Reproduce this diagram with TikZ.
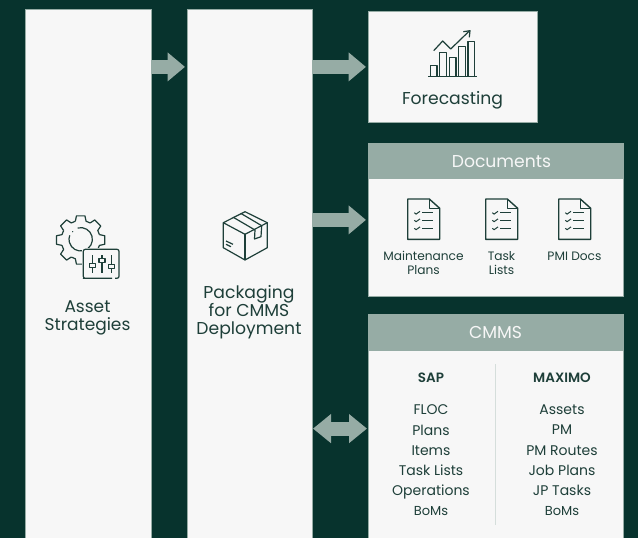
\documentclass[tikz,border=0pt]{standalone}
\usepackage{fontspec}
\setmainfont{Poppins}
\newfontface\semibold{Poppins SemiBold}
\usetikzlibrary{arrows.meta}
\definecolor{bgdark}{HTML}{07332D}
\definecolor{sage}{HTML}{96ACA5}
\definecolor{paper}{HTML}{F7F7F7}
\definecolor{ink}{HTML}{1E3F39}
\tikzset{
  panel/.style={rectangle,draw=sage,line width=1pt,fill=paper,inner sep=0pt,outer sep=0pt},
  header/.style={rectangle,fill=sage,text=paper,inner sep=0pt,outer sep=0pt,minimum width=255.5pt,font=\fontsize{17.2}{20}\selectfont},
  icon/.style={draw=ink,line width=1.2pt,line join=round},
  pics/checkdoc/.style={code={
    \draw[icon,line width=1.4pt] (0,0) -- (21.6,0) -- (32,9.3) -- (32,40.3) -- (0,40.3) -- cycle;
    \draw[icon] (21.6,0) -- (21.6,9.3) -- (32,9.3);
    \foreach \r in {13.7,21.3,29.3} {
      \draw[icon,line width=1pt] (6.6,\r) -- (8.4,\r+1.4) -- (12.3,\r-1.4);
      \draw[icon,line width=1pt] (14.3,\r) -- (25.3,\r);
    }
  }}
}
\begin{document}
\begin{tikzpicture}[x=1pt,y=-1pt]

        \clip (0,0) rectangle (638,538);
        \fill[bgdark] (0,0) rectangle (638,538);

        \begin{scope}[every node/.style={panel}]
          \node[minimum width=126pt,minimum height=550pt] (asset) at (88,284.5) {};
          \node[minimum width=125pt,minimum height=550pt] (pack) at (249.5,284.5) {};
          \node[minimum width=169pt,minimum height=110.5pt] (forecast) at (452.5,66.9) {};
          \node[minimum width=255pt,minimum height=152.5pt] (docs) at (495.5,219.9) {};
          \node[minimum width=255pt,minimum height=229pt] (cmms) at (495.5,428.6) {};
        \end{scope}

        \node[header,minimum height=35pt,anchor=north] (docshead) at (docs.north) {\hspace*{12pt}\raisebox{-1pt}{Documents}};
        \node[header,minimum height=37pt,anchor=north] (cmmshead) at (cmms.north) {\raisebox{-1pt}{CMMS}};

        \begin{scope}[every edge/.style={draw=sage,line width=14pt,shorten >=2pt,-{Triangle[length=17.5pt,width=28pt]}}]
          \path (asset.east |- forecast.west) edge (pack.west |- forecast.west);
          \path (pack.east |- forecast.west) edge (forecast.west);
          \path (pack.east |- docs.west) edge (docs.west);
        \end{scope}
        \path[draw=sage,line width=14pt,shorten >=1pt,shorten <=1pt,{Triangle[length=18pt,width=28pt]}-{Triangle[length=18pt,width=28pt]}] (pack.east |- cmms.west) -- (cmms.west);

        \begin{scope}[every node/.style={text=ink,align=center,inner sep=0pt}]
          \node[font=\fontsize{17}{18.5}\selectfont] (assetlabel) at (87.5,318) {Asset\\Strategies};
          \node[font=\fontsize{17.2}{18}\selectfont] (packlabel) at (249,312) {Packaging\\for CMMS\\Deployment};
          \node[font=\fontsize{17.2}{20}\selectfont] (forecastlabel) at (452.5,100) {Forecasting};
          \node[font=\fontsize{12.2}{14}\selectfont] (planslabel) at (423.5,263) {Maintenance\\Plans};
          \node[font=\fontsize{12.2}{14}\selectfont] (taskslabel) at (501.5,263) {Task\\Lists};
          \node[font=\fontsize{12.2}{14}\selectfont] (pmilabel) at (574.5,256) {PMI Docs};
          \node[font=\fontsize{13.5}{16}\semibold] (saplabel) at (431,378) {SAP};
          \node[font=\fontsize{13.5}{16}\semibold] (maximolabel) at (562,378) {MAXIMO};
          \node[font=\fontsize{14}{20.2}\selectfont] (saplist) at (431,460.5) {FLOC\\Plans\\Items\\Task Lists\\Operations\\{\fontsize{13}{20.2}\selectfont BoMs}};
          \node[font=\fontsize{14}{20.2}\selectfont] (maximolist) at (562,460.5) {Assets\\PM\\PM Routes\\Job Plans\\JP Tasks\\{\fontsize{13}{20.2}\selectfont BoMs}};
        \end{scope}

        \draw[sage!40,line width=1pt] (495.5,364) -- (495.5,525);

        \foreach \a in {0,45,...,315} {
          \draw[icon,shift={(80.7,240)}] (\a-16:19.5) -- (\a-10:24.5) -- (\a+10:24.5) -- (\a+16:19.5) -- (\a+29:19.5);
        }
        \draw[icon] (80.7,239.3) ++(-105:11.7) arc[start angle=-105,end angle=200,radius=11.7];
        \fill[ink] (72.7,231.7) circle (.7);
        \fill[paper] (82,247.5) rectangle (121,280);
        \draw[icon,rounded corners=2pt] (112,278.3) -- (85.3,278.3) -- (83.3,278.3) -- (83.3,249.3) -- (119,249.3) -- (119,278.3) -- (115,278.3);
        \foreach \x/\k in {92.3/265.7,102/260.7,111.3/266.3} {
          \draw[icon] (\x,255) -- (\x,\k-2);
          \draw[icon] (\x,\k+2) -- (\x,273);
          \draw[icon] (\x-3,\k-2) rectangle (\x+3,\k+2);
        }

        \draw[icon] (245,211.7) -- (267.3,222.7) -- (267.3,247.7) -- (245,260) -- (223.3,247.7) -- (223.3,222.7) -- cycle;
        \draw[icon] (223.3,222.7) -- (245,234.3) -- (267.3,222.7);
        \draw[icon] (245,234.3) -- (245,260);
        \draw[icon] (233.3,217.3) -- (255,230) -- (254.5,239) -- (261,236.7) -- (261.7,225.7) -- (240.7,213.3);
        \draw[icon] (226,241) -- (233,244.3);
        \draw[icon] (226,244.3) -- (231,246.7);

        \draw[icon,line width=1.3pt] (428.3,76.7) -- (476.7,76.7);
        \foreach \x/\t in {430.3/65.3,439.7/52.7,449.3/57.3,458.7/46.7,468/41.7} {
          \draw[icon] (\x,76.7) -- (\x,\t) -- (\x+6.7,\t) -- (\x+6.7,76.7);
        }
        \draw[icon] (433.7,50.7) -- (442.7,41) -- (450.7,49) -- (469.3,31);
        \draw[icon] (463.3,31.7) -- (470,30.7) -- (469.3,37.3);

        \pic at (407.7,199) {checkdoc};
        \pic at (485.7,199) {checkdoc};
        \pic at (558.7,199) {checkdoc};

      \end{tikzpicture}
\end{document}
